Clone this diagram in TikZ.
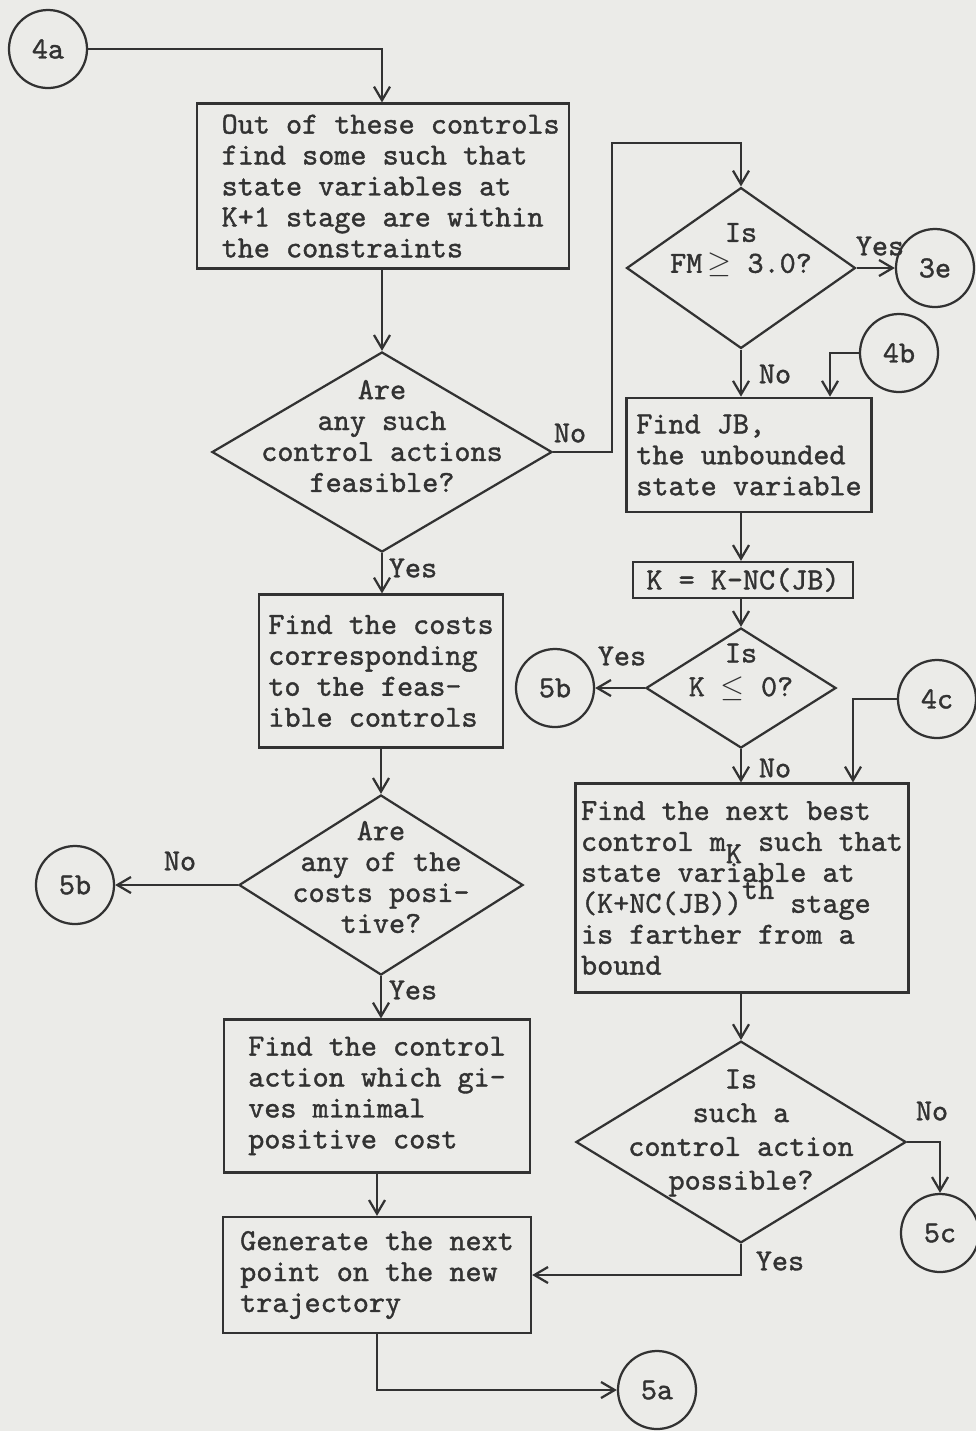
\documentclass[tikz,border=0pt]{standalone}
\usepackage{fontspec}
\usetikzlibrary{shapes.geometric,arrows.meta}

\newfontfamily\typefont{lmmono10-regular}[Extension=.otf, FakeBold=1.2]

\definecolor{paper}{RGB}{235,235,232}
\definecolor{ink}{RGB}{50,50,50}

\tikzset{
    box/.style={draw=ink, rectangle, align=left, inner sep=2pt},
    decision/.style={draw=ink, diamond, inner sep=0pt},
    conn/.style={draw=ink, circle, minimum size=0.975cm, inner sep=0pt},
    flow/.style={draw=ink, -{Straight Barb[length=1.7mm,width=2mm]}},
}

\begin{document}
\begin{tikzpicture}[x=0.0125cm, y=-0.0125cm, line width=0.8pt, text=ink,
    font=\fontsize{10.9}{11}\selectfont\typefont]
    % Page
    \fill[paper] (0,0) rectangle (976,1431);
    \useasboundingbox (0,0) rectangle (976,1431);

    % Left column
    \node[conn] (c4a) at (48,49) {4a};
    \node[box, minimum width=4.64cm, minimum height=2.06cm] (b1) at (383,186)
        {\hspace*{0.5em}Out of these controls\\\hspace*{0.5em}find some such that\\\hspace*{0.5em}state variables at\\\hspace*{0.5em}K+1 stage are within\\\hspace*{0.5em}the constraints};
    \node[decision, minimum width=4.25cm, minimum height=2.5cm] (d1) at (382,452) {};
    \node[align=center] (t1) at (382,436) {Are\\any such\\control actions\\feasible?};
    \node[box, minimum width=3.05cm, minimum height=1.91cm] (b5) at (381,671)
        {Find the costs\\corresponding\\to the feas-\\ible controls};
    \node[decision, minimum width=3.55cm, minimum height=2.25cm] (d5) at (381,885) {};
    \node[align=center] (t5) at (381,877) {Are\\any of the\\costs posi-\\tive?};
    \node[conn] (c5bl) at (75,885) {5b};
    \node[box, minimum width=3.825cm, minimum height=1.91cm] (b6) at (377,1096)
        {Find the control\\action which gi-\\ves minimal\\positive cost};
    \node[box, minimum width=3.85cm, minimum height=1.45cm] (b7) at (377,1275)
        {Generate the next\\point on the new\\trajectory};
    \node[conn] (c5a) at (657,1390) {5a};

    % Right column
    \node[decision, minimum width=2.86cm, minimum height=2.01cm] (d2) at (741,268) {};
    \node[align=center] (t2) at (741,250) {Is\\FM$\,\geq$ 3.0?};
    \node[conn] (c3e) at (935,268) {3e};
    \node[conn] (c4b) at (899,353) {4b};
    \node[box, minimum width=3.06cm, minimum height=1.43cm] (b2) at (749,455)
        {Find JB,\\the unbounded\\state variable};
    \node[box, inner ysep=1pt, minimum width=2.74cm, minimum height=0.45cm] (b3) at (743,580)
        {K = K-NC(JB)};
    \node[decision, minimum width=2.375cm, minimum height=1.5cm] (d3) at (741,688) {};
    \node[align=center, font=\fontsize{10.9}{12}\selectfont\typefont] (t3) at (741,672) {Is\\K $\leq$ 0?};
    \node[conn] (c5br) at (555,688) {5b};
    \node[conn] (c4c) at (937,699) {4c};
    \node[box, minimum width=4.125cm, minimum height=2.61cm] (b4) at (742,888)
        {Find the next best\\control m\smash{\raisebox{-0.4em}{K}} such that\\state variable at\\(K+NC(JB))\smash{\raisebox{0.45em}{th}} stage\\is farther from a\\bound};
    \node[decision, minimum width=4.125cm, minimum height=2.52cm] (d4) at (741,1142) {};
    \node[align=center, font=\fontsize{10.9}{12}\selectfont\typefont] (t4) at (741,1133)
        {Is\\such a\\control action\\possible?};
    \node[conn] (c5c) at (940,1233) {5c};

    % Free ends of the bent connectors
    \coordinate (k1) at (612,143);
    \coordinate (k2) at (830,0);
    \coordinate (k3) at (853,0);

    % Connectors
    \draw[flow] (c4a.east) -| (b1.north -| d1.north);
    \draw[flow] (b1.south -| d1.north) -- (d1.north);
    \draw[flow] (d1.east) -| (k1) -| (d2.north);
    \draw[flow] (d1.south) -- (d1.south |- b5.north);
    \draw[flow] (b5.south) -- (b5.south |- d5.north);
    \draw[flow] (d5.west) -- (c5bl.east);
    \draw[flow] (d5.south) -- (d5.south |- b6.north);
    \draw[flow] (b6.south) -- (b7.north);
    \draw[flow] (b7.south) |- (c5a.west);
    \draw[flow] (d2.east) -- (c3e.west);
    \draw[flow] (d2.south) -- (d2.south |- b2.north);
    \draw[flow] (c4b.west) -| (b2.north -| k2);
    \draw[flow] (b2.south -| d2.south) -- (b3.north -| d2.south);
    \draw[flow] (b3.south -| d3.north) -- (d3.north);
    \draw[flow] (d3.west) -- (c5br.east);
    \draw[flow] (d3.south) -- (d3.south |- b4.north);
    \draw[flow] (c4c.west) -| (b4.north -| k3);
    \draw[flow] (b4.south -| d4.north) -- (d4.north);
    \draw[flow] (d4.east) -| (c5c.north);
    \draw[flow] (d4.south) |- (b7.east);

    % Answers
    \node (n1) at (570,433) {No};
    \node (y1) at (413,568) {Yes};
    \node (y2) at (880,246) {Yes};
    \node (n2) at (775,374) {No};
    \node (y3) at (622,656) {Yes};
    \node (n3) at (775,768) {No};
    \node (n5) at (180,861) {No};
    \node (y5) at (413,990) {Yes};
    \node (n4) at (932,1111) {No};
    \node (y4) at (780,1261) {Yes};
\end{tikzpicture}
\end{document}
